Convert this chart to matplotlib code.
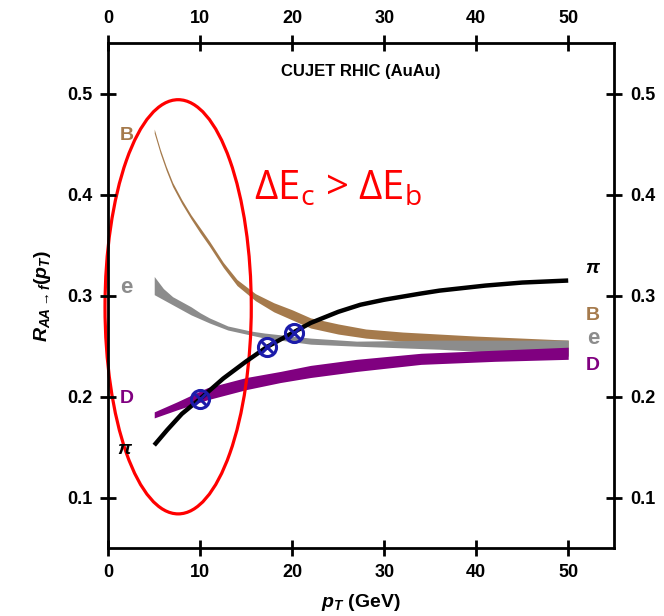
import numpy as np
import matplotlib
matplotlib.use('Agg')
import matplotlib.pyplot as plt
from matplotlib.patches import Ellipse

plt.rcParams['font.family'] = ['Liberation Sans', 'DejaVu Sans']
plt.rcParams['mathtext.fontset'] = 'custom'
plt.rcParams['mathtext.rm'] = 'Liberation Sans:bold'
plt.rcParams['mathtext.it'] = 'Liberation Sans:italic:bold'
plt.rcParams['mathtext.bf'] = 'Liberation Sans:bold'

# pion R_AA (line)
pi_x = [5, 6.4, 8, 10, 12.5, 15, 17.3, 20, 22, 25, 27.4, 30, 33.9, 36, 41, 45, 50]
pi_y = [0.152, 0.167, 0.183, 0.198, 0.218, 0.235, 0.2495, 0.263, 0.273, 0.284, 0.291,
        0.296, 0.302, 0.305, 0.310, 0.313, 0.315]

# B band
b_x = [5, 5.65, 6.3, 7, 8, 9, 10, 11, 12.5, 14, 16, 18, 20, 22, 25, 28, 32, 36, 40, 45, 50]
b_lo = [0.461, 0.441, 0.424, 0.408, 0.391, 0.376, 0.362, 0.349, 0.328, 0.310, 0.295,
        0.284, 0.276, 0.268, 0.262, 0.258, 0.255, 0.253, 0.250, 0.246, 0.241]
b_hi = [0.465, 0.445, 0.428, 0.412, 0.395, 0.380, 0.367, 0.354, 0.333, 0.316, 0.302,
        0.293, 0.286, 0.278, 0.272, 0.267, 0.264, 0.262, 0.260, 0.258, 0.256]

# e band
e_x = [5, 6, 7, 8, 9, 10, 11, 13, 15.5, 17, 22, 27, 36, 50]
e_lo = [0.301, 0.296, 0.291, 0.286, 0.281, 0.277, 0.273, 0.266, 0.261, 0.258, 0.252,
        0.250, 0.247, 0.240]
e_hi = [0.319, 0.307, 0.299, 0.294, 0.289, 0.283, 0.278, 0.270, 0.265, 0.263, 0.258,
        0.255, 0.256, 0.256]

# D band
d_x = [5, 7.5, 10.8, 15, 18.7, 22, 27, 34, 42, 50]
d_lo = [0.179, 0.187, 0.197, 0.207, 0.214, 0.219, 0.225, 0.232, 0.235, 0.237]
d_hi = [0.185, 0.195, 0.209, 0.219, 0.225, 0.231, 0.237, 0.243, 0.246, 0.249]

# crossing points
cross_x = [10, 17.3, 20.2]
cross_y = [0.198, 0.2495, 0.263]

brown = '#a57a4c'
grey = '#8c8c8c'
purple = '#800080'
blue = '#1c1caa'

fig = plt.figure(figsize=(6.64, 6.16), dpi=100)
ax = fig.add_axes([0.163, 0.110, 0.762, 0.820])

ax.fill_between(b_x, b_lo, b_hi, color=brown, lw=0)
ax.fill_between(e_x, e_lo, e_hi, color=grey, lw=0)
ax.fill_between(d_x, d_lo, d_hi, color=purple, lw=0)
ax.plot(pi_x, pi_y, color='black', lw=3.2, solid_capstyle='butt')

ax.plot(cross_x, cross_y, 'o', ms=13, mfc='none', mec=blue, mew=2.2)
ax.plot(cross_x, cross_y, 'x', ms=8, mec=blue, mew=2.2)

ax.set_xlim(0, 55)
ax.set_ylim(0.05, 0.55)
ax.set_xticks([0, 10, 20, 30, 40, 50])
ax.set_yticks([0.1, 0.2, 0.3, 0.4, 0.5])
ax.tick_params(direction='inout', length=11, width=2, labelsize=13,
               top=True, labeltop=True, right=True, labelright=True, pad=6)
for t in ax.xaxis.get_major_ticks() + ax.yaxis.get_major_ticks():
    t.label1.set_fontweight('bold')
    t.label2.set_fontweight('bold')
for s in ax.spines.values():
    s.set_linewidth(2)

ax.set_xlabel(r'$p_T$ (GeV)', fontsize=14, fontweight='bold', labelpad=8)
ax.set_ylabel(r'$R_{AA\rightarrow f}(p_T)$', fontsize=14, fontweight='bold', labelpad=10)

ax.text(27.4, 0.522, 'CUJET RHIC (AuAu)', ha='center', va='center',
        fontsize=12, fontweight='bold')

# curve labels
ax.text(2.0, 0.459, 'B', color=brown, fontsize=14, fontweight='bold', ha='center', va='center')
ax.text(2.0, 0.308, 'e', color=grey, fontsize=16, fontweight='bold', ha='center', va='center')
ax.text(2.0, 0.198, 'D', color=purple, fontsize=14, fontweight='bold', ha='center', va='center')
ax.text(1.8, 0.148, r'$\pi$', color='black', fontsize=14, ha='center', va='center')
ax.text(52.7, 0.327, r'$\pi$', color='black', fontsize=14, ha='center', va='center')
ax.text(52.7, 0.280, 'B', color=brown, fontsize=14, fontweight='bold', ha='center', va='center')
ax.text(52.7, 0.258, 'e', color=grey, fontsize=16, fontweight='bold', ha='center', va='center')
ax.text(52.7, 0.231, 'D', color=purple, fontsize=14, fontweight='bold', ha='center', va='center')

# annotation
ell = Ellipse((7.6, 0.289), 15.9, 0.41, fill=False, ec='red', lw=2.3, clip_on=False)
ax.add_patch(ell)
ax.text(15.8, 0.395, 'ΔE$_\\mathregular{c}$ > ΔE$_\\mathregular{b}$', color='red',
        fontsize=29, fontweight='normal', family=['Open Sans', 'DejaVu Sans'],
        ha='left', va='baseline')

fig.savefig('out.png', dpi=100)
